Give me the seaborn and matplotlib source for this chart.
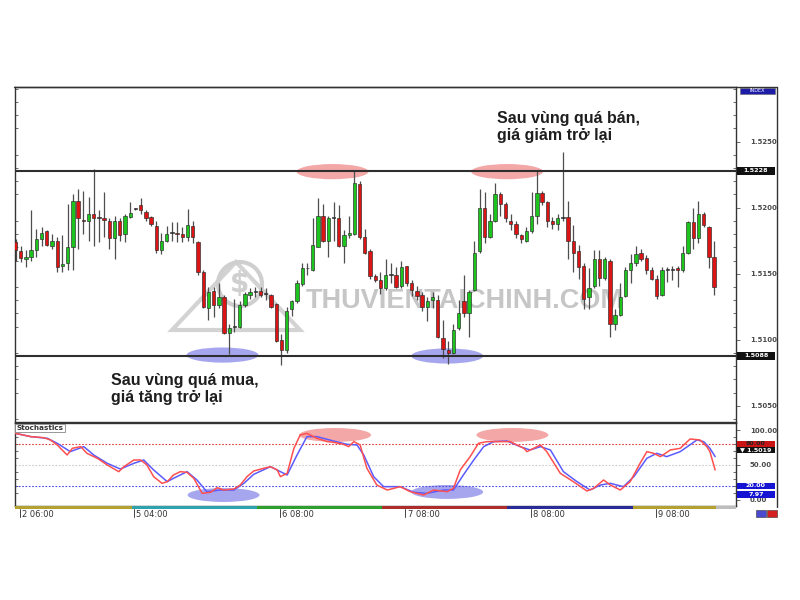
import numpy as np
import pandas as pd
import matplotlib
matplotlib.use("Agg")
import matplotlib.pyplot as plt
from matplotlib.patches import Ellipse, Rectangle, Polygon
from matplotlib.lines import Line2D
import matplotlib.transforms as mtransforms
import seaborn as sns

sns.set_style("white")
plt.rcParams["font.family"] = ["DejaVu Sans"]

# ---------------- data (hourly candles) ----------------
opens = [1.5174, 1.5167, 1.5161, 1.5163, 1.5168, 1.5176, 1.5182, 1.5171, 1.5175, 1.5156,
         1.5158, 1.5170, 1.5205, 1.5191, 1.5190, 1.5195, 1.5192, 1.5192, 1.5190, 1.5177,
         1.5190, 1.5180, 1.5193, 1.5199, 1.5202, 1.5197, 1.5193, 1.5186, 1.5168, 1.5175,
         1.5181, 1.5181, 1.5180, 1.5178, 1.5186, 1.5174, 1.5151, 1.5124, 1.5137, 1.5126,
         1.5132, 1.5105, 1.5110, 1.5110, 1.5126, 1.5134, 1.5136, 1.5137, 1.5135, 1.5134,
         1.5127, 1.5100, 1.5092, 1.5123, 1.5129, 1.5142, 1.5154, 1.5153, 1.5170, 1.5194,
         1.5175, 1.5192, 1.5192, 1.5171, 1.5179, 1.5180, 1.5218, 1.5178, 1.5167, 1.5148,
         1.5145, 1.5139, 1.5149, 1.5149, 1.5141, 1.5156, 1.5143, 1.5137, 1.5134, 1.5125,
         1.5130, 1.5130, 1.5101, 1.5092, 1.5090, 1.5109, 1.5129, 1.5120, 1.5138, 1.5167,
         1.5200, 1.5178, 1.5190, 1.5210, 1.5203, 1.5190, 1.5188, 1.5179, 1.5175, 1.5182,
         1.5194, 1.5211, 1.5204, 1.5190, 1.5188, 1.5192, 1.5193, 1.5175, 1.5167, 1.5156,
         1.5132, 1.5141, 1.5161, 1.5147, 1.5160, 1.5112, 1.5119, 1.5133, 1.5153, 1.5158,
         1.5166, 1.5162, 1.5153, 1.5146, 1.5134, 1.5153, 1.5153, 1.5154, 1.5153, 1.5166,
         1.5189, 1.5177, 1.5195, 1.5185, 1.5163]
highs = [1.5176, 1.5171, 1.5168, 1.5198, 1.5184, 1.5185, 1.5183, 1.5180, 1.5178, 1.5179,
         1.5203, 1.5210, 1.5214, 1.5213, 1.5208, 1.5229, 1.5198, 1.5212, 1.5192, 1.5194,
         1.5192, 1.5195, 1.5204, 1.5200, 1.5207, 1.5198, 1.5194, 1.5190, 1.5181, 1.5186,
         1.5189, 1.5189, 1.5185, 1.5199, 1.5190, 1.5175, 1.5153, 1.5140, 1.5140, 1.5143,
         1.5134, 1.5112, 1.5131, 1.5129, 1.5136, 1.5139, 1.5140, 1.5140, 1.5139, 1.5135,
         1.5128, 1.5104, 1.5125, 1.5130, 1.5145, 1.5158, 1.5158, 1.5192, 1.5207, 1.5203,
         1.5194, 1.5204, 1.5202, 1.5183, 1.5194, 1.5228, 1.5220, 1.5184, 1.5169, 1.5150,
         1.5151, 1.5161, 1.5158, 1.5155, 1.5160, 1.5156, 1.5145, 1.5141, 1.5136, 1.5132,
         1.5136, 1.5134, 1.5115, 1.5099, 1.5112, 1.5130, 1.5149, 1.5138, 1.5175, 1.5214,
         1.5212, 1.5195, 1.5219, 1.5212, 1.5204, 1.5195, 1.5190, 1.5180, 1.5185, 1.5212,
         1.5228, 1.5213, 1.5205, 1.5193, 1.5195, 1.5242, 1.5205, 1.5187, 1.5172, 1.5158,
         1.5154, 1.5168, 1.5168, 1.5163, 1.5161, 1.5123, 1.5143, 1.5155, 1.5165, 1.5171,
         1.5169, 1.5164, 1.5155, 1.5149, 1.5155, 1.5155, 1.5156, 1.5156, 1.5171, 1.5190,
         1.5200, 1.5205, 1.5197, 1.5186, 1.5175]
lows = [1.5160, 1.5159, 1.5155, 1.5160, 1.5163, 1.5171, 1.5171, 1.5169, 1.5151, 1.5151,
        1.5153, 1.5153, 1.5169, 1.5180, 1.5175, 1.5171, 1.5174, 1.5178, 1.5169, 1.5161,
        1.5175, 1.5174, 1.5192, 1.5198, 1.5195, 1.5190, 1.5186, 1.5166, 1.5165, 1.5174,
        1.5175, 1.5174, 1.5174, 1.5175, 1.5173, 1.5149, 1.5124, 1.5115, 1.5117, 1.5124,
        1.5104, 1.5089, 1.5106, 1.5109, 1.5125, 1.5131, 1.5132, 1.5132, 1.5130, 1.5124,
        1.5098, 1.5081, 1.5090, 1.5118, 1.5128, 1.5141, 1.5149, 1.5152, 1.5170, 1.5174,
        1.5163, 1.5175, 1.5170, 1.5158, 1.5177, 1.5179, 1.5176, 1.5165, 1.5146, 1.5144,
        1.5135, 1.5138, 1.5143, 1.5139, 1.5139, 1.5141, 1.5133, 1.5130, 1.5122, 1.5114,
        1.5124, 1.5101, 1.5086, 1.5082, 1.5089, 1.5107, 1.5117, 1.5102, 1.5137, 1.5166,
        1.5173, 1.5177, 1.5189, 1.5194, 1.5189, 1.5183, 1.5177, 1.5173, 1.5174, 1.5181,
        1.5188, 1.5202, 1.5185, 1.5184, 1.5183, 1.5190, 1.5161, 1.5151, 1.5146, 1.5123,
        1.5123, 1.5139, 1.5141, 1.5145, 1.5102, 1.5107, 1.5118, 1.5132, 1.5143, 1.5156,
        1.5160, 1.5150, 1.5145, 1.5131, 1.5133, 1.5144, 1.5145, 1.5140, 1.5151, 1.5165,
        1.5169, 1.5173, 1.5185, 1.5154, 1.5134]
closes = [1.5168, 1.5162, 1.5163, 1.5168, 1.5176, 1.5181, 1.5172, 1.5175, 1.5155, 1.5157,
          1.5170, 1.5205, 1.5192, 1.5190, 1.5195, 1.5192, 1.5192, 1.5191, 1.5177, 1.5190,
          1.5179, 1.5194, 1.5196, 1.5199, 1.5198, 1.5192, 1.5188, 1.5168, 1.5175, 1.5180,
          1.5181, 1.5180, 1.5178, 1.5187, 1.5178, 1.5151, 1.5125, 1.5136, 1.5126, 1.5132,
          1.5105, 1.5109, 1.5110, 1.5126, 1.5135, 1.5136, 1.5136, 1.5134, 1.5135, 1.5125,
          1.5099, 1.5092, 1.5122, 1.5129, 1.5143, 1.5154, 1.5154, 1.5172, 1.5194, 1.5175,
          1.5192, 1.5192, 1.5171, 1.5179, 1.5181, 1.5219, 1.5178, 1.5166, 1.5148, 1.5145,
          1.5139, 1.5149, 1.5149, 1.5140, 1.5155, 1.5143, 1.5138, 1.5133, 1.5125, 1.5129,
          1.5132, 1.5102, 1.5093, 1.5090, 1.5107, 1.5120, 1.5120, 1.5136, 1.5166, 1.5200,
          1.5178, 1.5190, 1.5210, 1.5203, 1.5192, 1.5188, 1.5180, 1.5176, 1.5182, 1.5194,
          1.5211, 1.5204, 1.5190, 1.5188, 1.5192, 1.5192, 1.5175, 1.5166, 1.5155, 1.5131,
          1.5139, 1.5161, 1.5147, 1.5161, 1.5112, 1.5119, 1.5132, 1.5153, 1.5158, 1.5165,
          1.5161, 1.5153, 1.5146, 1.5133, 1.5153, 1.5153, 1.5153, 1.5153, 1.5166, 1.5189,
          1.5177, 1.5195, 1.5187, 1.5163, 1.5140]

# Stochastic %K (red) and %D (blue), sampled along the candle index
k_idx = [0, 2.9, 5.4, 6.7, 8.0, 9.9, 10.9, 12.5, 13.7, 15.7, 17.6, 19.8, 20.8, 22.7, 24.0,
         25.2, 26.5, 28.1, 29.1, 30.3, 31.6, 32.9, 34.2, 35.8, 37.4, 38.7, 39.9, 41.9, 43.1,
         44.4, 45.7, 47.6, 48.9, 50.2, 50.8, 52.1, 53.4, 54.6, 55.9, 57.8, 59.8, 61.0, 62.9,
         63.9, 64.9, 66.1, 67.4, 69.3, 71.3, 73.8, 75.7, 78.3, 80.2, 82.8, 84.0, 85.3, 87.2,
         88.8, 90.4, 93.0, 94.9, 97.5, 98.1, 100.7, 101.9, 104.5, 107.0, 109.6, 110.9, 112.8,
         114.1, 116.0, 117.9, 119.8, 121.1, 122.4, 123.7, 125.6, 127.5, 129.4, 131.3, 132.6,
         133.2, 134.2]
k_val = [95.3, 90.6, 89.1, 85.8, 78.6, 64.2, 73.8, 76.2, 66.6, 59.4, 49.8, 40.2, 47.4, 57.0,
         57.0, 49.8, 33.0, 23.4, 25.8, 35.4, 40.2, 39.2, 30.6, 9.0, 10.5, 17.2, 13.8, 15.3,
         21.0, 33.0, 41.2, 45.0, 47.4, 42.6, 33.0, 37.8, 73.8, 92.9, 95.3, 88.2, 83.4, 82.4,
         79.5, 76.2, 83.4, 78.6, 45.0, 21.0, 13.8, 18.6, 11.4, 6.6, 13.8, 11.4, 16.2, 42.6,
         61.8, 81.0, 83.4, 83.4, 83.4, 73.8, 69.0, 78.6, 69.0, 37.8, 25.8, 12.4, 16.2, 28.2,
         21.0, 13.8, 25.8, 52.2, 69.0, 66.6, 61.8, 71.4, 73.8, 87.2, 85.8, 76.2, 69.0, 42.6]
d_idx = [0, 2.9, 6.1, 8.0, 10.5, 13.1, 15.0, 17.6, 20.1, 22.7, 24.6, 26.5, 29.1, 30.3, 32.9,
         34.8, 36.7, 39.3, 41.9, 43.8, 45.7, 48.9, 52.1, 54.0, 55.9, 57.8, 61.0, 63.6, 65.5,
         66.8, 68.7, 70.6, 73.8, 76.4, 78.9, 82.1, 84.0, 85.9, 87.9, 89.8, 91.7, 94.3, 96.8,
         98.7, 100.7, 102.6, 105.1, 107.7, 110.2, 112.2, 114.1, 116.6, 118.6, 121.1, 123.0,
         124.9, 127.5, 130.7, 132.0, 133.2, 134.2]
d_val = [95.3, 90.6, 88.2, 81.0, 69.0, 76.2, 64.2, 52.2, 44.0, 52.2, 57.0, 42.6, 25.8, 30.6,
         40.2, 28.2, 11.4, 13.8, 13.8, 23.4, 36.4, 47.4, 35.4, 64.2, 90.6, 90.6, 84.3, 79.5,
         78.6, 64.2, 33.0, 18.6, 18.6, 10.5, 9.0, 13.8, 13.8, 35.4, 57.0, 76.2, 83.4, 84.3,
         76.2, 71.4, 76.2, 71.4, 40.2, 25.8, 13.8, 21.0, 23.4, 18.6, 33.0, 59.4, 66.6, 61.8,
         69.0, 85.8, 83.4, 73.8, 61.8]

price_ticks = [1.5050, 1.5100, 1.5150, 1.5200, 1.5250]
level_high = 1.5228
level_low = 1.5088
stoch_ticks = [0, 50, 100]
time_labels = ["2 06:00", "5 04:00", "6 08:00", "7 08:00", "8 08:00", "9 08:00"]
time_pos = [0.8, 22.7, 50.8, 74.8, 98.9, 122.9]
day_bounds = [-0.1, 22.3, 46.3, 70.3, 94.3, 118.4, 134.4, 138.2]
day_colors = ["#b3a232", "#2fa3ad", "#2e9e2e", "#ad2c2c", "#2b2b96", "#b3a232", "#bdbdbd"]

# ---------------- figure ----------------
W, H = 800, 600
def frect(x0, y0, x1, y1):
    return [x0 / W, 1 - y1 / H, (x1 - x0) / W, (y1 - y0) / H]

fig = plt.figure(figsize=(8, 6), dpi=100)
fig.patch.set_facecolor("white")
ax1 = fig.add_axes(frect(15, 87, 736, 422))
ax2 = fig.add_axes(frect(15, 423, 736, 506))
axb = fig.add_axes(frect(15, 506, 736, 509))

XLIM = (-0.1, 138.2)

# ---- main candlestick panel ----
df = pd.DataFrame({"open": opens, "high": highs, "low": lows, "close": closes})
df["x"] = np.arange(len(df))
colors = np.where(df.close > df.open, "#1ec41e",
                  np.where(df.close < df.open, "#dc1414", "#3a3a3a"))
ax1.vlines(df.x, df.low, df.high, color="#4e4e4e", lw=0.9, zorder=2)
body_bottom = df[["open", "close"]].min(axis=1)
body_h = (df.close - df.open).abs().clip(lower=0.00006)
ax1.bar(df.x, body_h, bottom=body_bottom, width=0.64, color=colors,
        edgecolor="#2a2a2a", linewidth=0.45, zorder=3)

ax1.axhline(level_high, color="#2e2e2e", lw=1.5, zorder=4)
ax1.axhline(level_low, color="#2e2e2e", lw=1.5, zorder=4)

pink, blue = "#f08a8a", "#8888ea"
for cx, cy, col in [(60.8, 1.52273, pink), (94.3, 1.52273, pink),
                    (39.7, 1.50884, blue), (82.8, 1.50877, blue)]:
    ax1.add_patch(Ellipse((cx, cy), 13.8, 0.00115, fc=col, ec="none", alpha=0.75, zorder=1.5))

ax1.set_xlim(*XLIM)
ax1.set_ylim(1.50377, 1.52914)
ax1.set_xticks([])
ax1.yaxis.tick_right()
ax1.set_yticks(price_ticks)
ax1.set_yticklabels([f"{v:.4f}" for v in price_ticks], fontsize=5, fontweight="bold", color="#4a4a4a")
ax1.set_yticks(np.arange(1.5040, 1.5295, 0.0010), minor=True)
ax1.tick_params(axis="y", which="major", length=3, width=0.6, pad=7, direction="out", color="#555")
ax1.tick_params(axis="y", which="minor", length=2.5, width=0.6, direction="in",
                left=True, right=True, color="#555")
for sp in ax1.spines.values():
    sp.set_color("#333333")
    sp.set_linewidth(1.0)

# watermark
ax1.text(465 / W, 1 - 301 / H, "THUVIENTAICHINH.COM", transform=fig.transFigure,
         fontsize=19.5, fontweight="bold", family="Liberation Sans", color="#c6c6c6",
         ha="center", va="center", zorder=1.2)
ax1.add_patch(Polygon([(172 / W, 1 - 330 / H), (236 / W, 1 - 262 / H), (300 / W, 1 - 330 / H)],
                      closed=True, fill=False, ec="#d3d3d3", lw=3, transform=fig.transFigure, zorder=1.1))
ax1.add_patch(Ellipse((240 / W, 1 - 284 / H), 44 / W, 44 / H, fill=False, ec="#cfcfcf", lw=3,
                      transform=fig.transFigure, zorder=1.1))
ax1.text(240 / W, 1 - 284 / H, "$", transform=fig.transFigure, fontsize=20, fontweight="bold",
         color="#cfcfcf", ha="center", va="center", zorder=1.1)

# ---- stochastic panel ----
for cx, cy, col in [(61.3, 93, pink), (95.3, 93, pink), (39.9, 6.6, blue), (82.8, 11, blue)]:
    ax2.add_patch(Ellipse((cx, cy), 13.8, 20, fc=col, ec="none", alpha=0.75, zorder=1))
ax2.axhline(80, color="#e03c3c", lw=0.8, ls=(0, (1.5, 1.5)), zorder=1.5)
ax2.axhline(50, color="#cccccc", lw=0.8, ls=(0, (1.5, 1.5)), zorder=1.5)
ax2.axhline(20, color="#4a4ae0", lw=0.8, ls=(0, (1.5, 1.5)), zorder=1.5)
sns.lineplot(x=d_idx, y=d_val, ax=ax2, color="#5b5bff", lw=1.1, zorder=3)
sns.lineplot(x=k_idx, y=k_val, ax=ax2, color="#ff4f4f", lw=1.1, zorder=3)
ax2.set_xlim(*XLIM)
ax2.set_ylim(-9.2, 110.2)
ax2.set_xticks([])
ax2.set_xlabel("")
ax2.set_ylabel("")
ax2.yaxis.tick_right()
ax2.set_yticks(stoch_ticks)
ax2.set_yticklabels([f"{v:.2f}" for v in stoch_ticks], fontsize=5, fontweight="bold", color="#4a4a4a")
ax2.set_yticks(np.arange(0, 101, 10), minor=True)
ax2.tick_params(axis="y", which="major", length=3, width=0.6, pad=7, direction="out", color="#555")
ax2.tick_params(axis="y", which="minor", length=2.5, width=0.6, direction="in",
                left=True, right=True, color="#555")
for sp in ax2.spines.values():
    sp.set_color("#333333")
    sp.set_linewidth(1.0)
ax2.text(0.002, 0.975, "Stochastics", transform=ax2.transAxes, fontsize=5.2, fontweight="bold",
         color="#333", ha="left", va="top",
         bbox=dict(boxstyle="square,pad=0.15", fc="white", ec="#888", lw=0.6), zorder=5)

# ---- day colour strip and time labels ----
axb.axis("off")
for i, c in enumerate(day_colors):
    axb.axvspan(day_bounds[i], day_bounds[i + 1], color=c, lw=0)
axb.set_xlim(*XLIM)
axb.set_ylim(0, 1)
trans = mtransforms.blended_transform_factory(axb.transData, axb.transAxes)
for pos, lab in zip(time_pos, time_labels):
    axb.add_line(Line2D([pos, pos], [0, -2.7], transform=trans, color="#444", lw=0.7, clip_on=False))
    axb.annotate(lab, xy=(pos, 0), xycoords=trans, xytext=(1.5, -1.0), textcoords="offset points",
                 ha="left", va="top", fontsize=6, color="#333", annotation_clip=False)

# ---- right-side value boxes ----
def side_label(ax, val, text, fc, tc, h=8):
    yd = ax.transData.transform((0, val))[1]
    yf = fig.transFigure.inverted().transform((0, yd))[1]
    fig.add_artist(Rectangle((737 / W, yf - h / 2 / H), 38 / W, h / H, transform=fig.transFigure,
                             fc=fc, ec="none", zorder=5))
    fig.text(756 / W, yf, text, ha="center", va="center", fontsize=4.6, fontweight="bold",
             color=tc, zorder=6)

side_label(ax1, level_high, f"{level_high:.4f}", "#111111", "white")
side_label(ax1, level_low, f"{level_low:.4f}", "#111111", "white")
side_label(ax2, 80, "80.00", "#c81414", "#222222", h=5.6)
side_label(ax2, 71.4, "\u25bc 1.5019", "#111111", "white", h=5.6)
side_label(ax2, 19.6, "20.00", "#1414d2", "white", h=6.6)
side_label(ax2, 7.2, "7.97", "#1414d2", "white", h=6.6)

# ---- outer frame, index tag, buttons ----
fig.add_artist(Line2D([14 / W, 777 / W], [1 - 87 / H, 1 - 87 / H], transform=fig.transFigure,
                      color="#333", lw=1.0))
fig.add_artist(Line2D([777 / W, 777 / W], [1 - 87 / H, 1 - 507 / H], transform=fig.transFigure,
                      color="#333", lw=1.0))
fig.add_artist(Rectangle((740 / W, 1 - 94 / H), 35 / W, 6 / H, transform=fig.transFigure,
                         fc="#1c1ca8", ec="#666", lw=0.4))
fig.text(757.5 / W, 1 - 91 / H, "INDEX", fontsize=3.5, color="white", ha="center", va="center")
fig.add_artist(Rectangle((756 / W, 1 - 517 / H), 10 / W, 7 / H, transform=fig.transFigure,
                         fc="#4a4ad0", ec="#333", lw=0.4))
fig.add_artist(Rectangle((767 / W, 1 - 517 / H), 10 / W, 7 / H, transform=fig.transFigure,
                         fc="#d42020", ec="#333", lw=0.4))

# ---- annotations ----
fig.text(497 / W, 1 - 111 / H, "Sau vùng quá bán,\ngiá giảm trở lại", fontsize=11.5,
         fontweight="bold", family="Liberation Sans", color="#1e1e1e", ha="left", va="top",
         linespacing=1.15)
fig.text(111 / W, 1 - 373 / H, "Sau vùng quá mua,\ngiá tăng trở lại", fontsize=11.5,
         fontweight="bold", family="Liberation Sans", color="#1e1e1e", ha="left", va="top",
         linespacing=1.15)

fig.savefig("out.png", dpi=100, facecolor="white")
